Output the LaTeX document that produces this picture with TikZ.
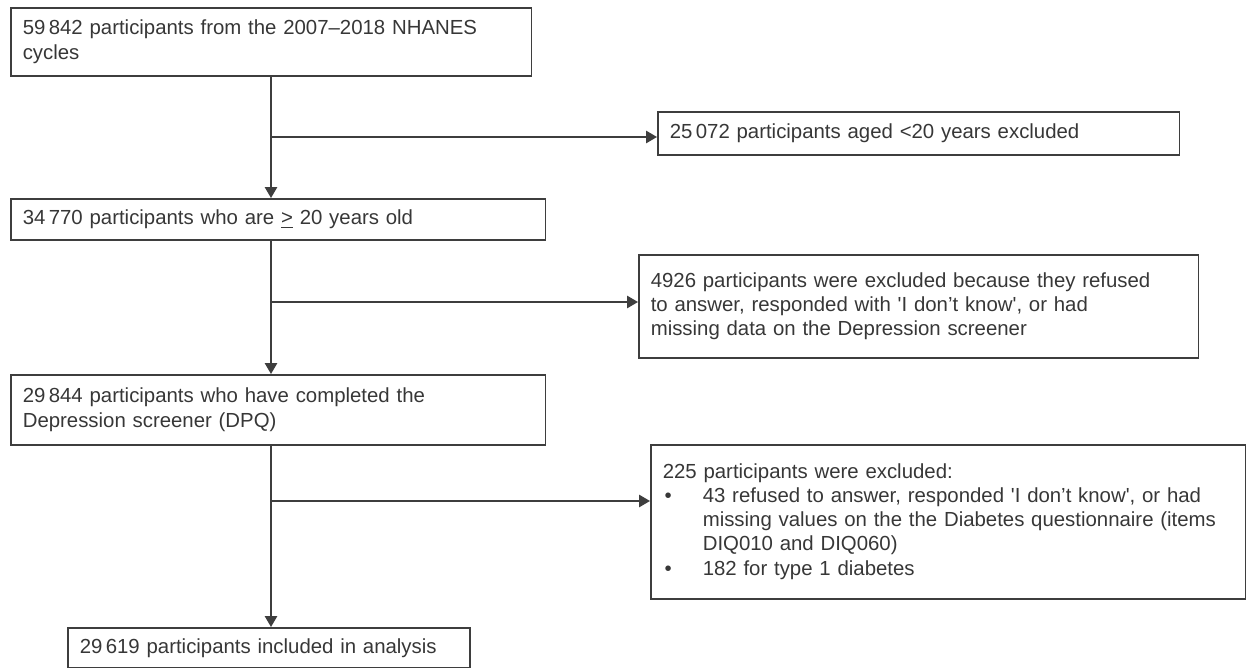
\documentclass[tikz,border=0pt]{standalone}
\usepackage{fontspec}
\setmainfont{Liberation Sans}
\definecolor{flowline}{RGB}{62,62,62}
\definecolor{flowtext}{RGB}{55,55,55}
\usetikzlibrary{arrows.meta,positioning}
\tikzset{
  flow/.style={rectangle,draw=flowline,line width=0.9pt,anchor=north west,
               align=left,text=flowtext,inner xsep=0.24cm,inner ysep=0pt,
               font=\fontsize{11.6}{13.8}\selectfont},
  arr/.style={-{Triangle[length=6.2pt,width=7pt]},line width=0.9pt,draw=flowline},
}

\begin{document}
\begin{tikzpicture}[x=0.02cm,y=-0.02cm]
    \useasboundingbox (0,0) rectangle (1247,668);
    \node[flow,text width=9.94cm,minimum height=1.36cm] (nhanes) at (10,7)
          {59\,842 participants from the 2007–2018 NHANES\\cycles};
    \node[flow,text width=9.96cm,minimum height=0.86cm] (young) at (657,111)
          {25\,072 participants aged <20 years excluded};
    \node[flow,text width=10.22cm,minimum height=0.82cm] (adults) at (10,198)
          {34\,770 participants who are \underline{>} 20 years old};
    \node[flow,text width=10.72cm,minimum height=2.06cm] (nodpq) at (638,254)
          {4926 participants were excluded because they refused\\
           to answer, responded with \textquotesingle I don’t know\textquotesingle, or had\\
           missing data on the Depression screener};
    \node[flow,text width=10.22cm,minimum height=1.40cm] (dpq) at (10,374)
          {29\,844 participants who have completed the\\Depression screener (DPQ)};
    \node[flow,text width=11.42cm,minimum height=3.08cm] (nodiq) at (650,444)
          {\begin{tabular}{@{}p{0.8cm}@{}l@{}}
           \multicolumn{2}{@{}l@{}}{225 participants were excluded:}\\
           \hspace{1pt}\textbullet & 43 refused to answer, responded \textquotesingle I don’t know\textquotesingle, or had\\
           & missing values on the the Diabetes questionnaire (items\\
           & DIQ010 and DIQ060)\\
           \hspace{1pt}\textbullet & 182 for type 1 diabetes
           \end{tabular}};
    \node[flow,text width=7.56cm,minimum height=0.80cm] (final) at (67,627)
          {29\,619 participants included in analysis};
    % main line and exclusions
    \coordinate (j1) at (271,137);
    \coordinate (j2) at (271,302);
    \coordinate (j3) at (271,501);
    \draw[arr] (j1 |- nhanes.south) -- (j1 |- adults.north);
    \draw[arr] (j1 |- adults.south) -- (j1 |- dpq.north);
    \draw[arr] (j1 |- dpq.south) -- (j1 |- final.north);
    \draw[arr] (j1) -- (j1 -| young.west);
    \draw[arr] (j2) -- (j2 -| nodpq.west);
    \draw[arr] (j3) -- (j3 -| nodiq.west);
\end{tikzpicture}
\end{document}
